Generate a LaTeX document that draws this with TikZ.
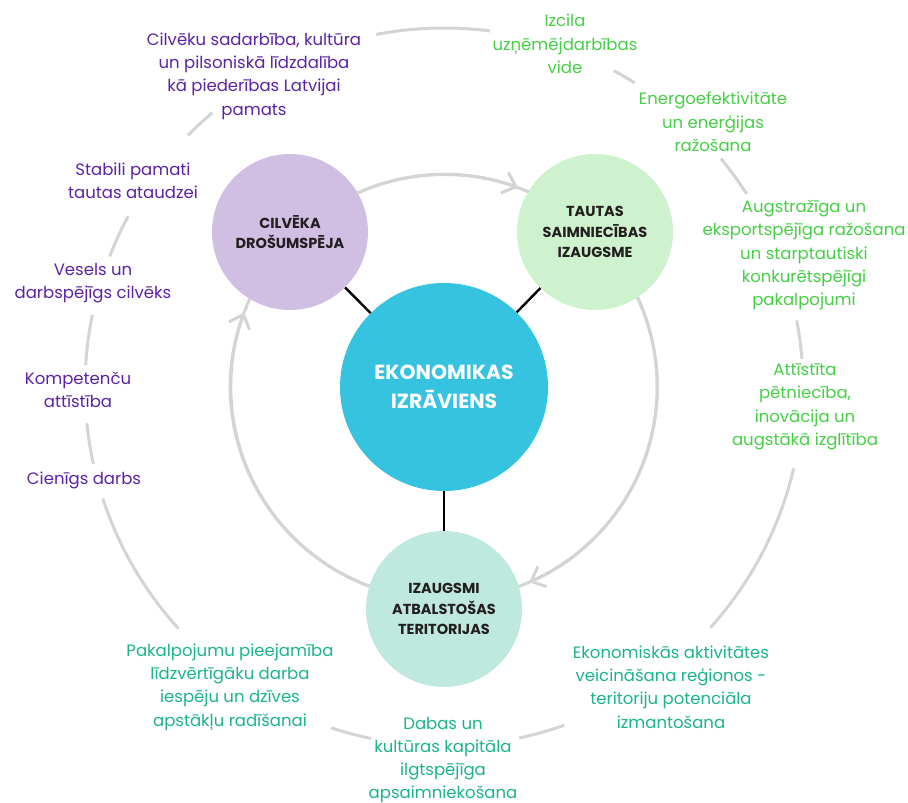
\documentclass[tikz,border=0pt]{standalone}
\usepackage{fontspec}
\setmainfont{Poppins}
\usetikzlibrary{arrows.meta}
\definecolor{purp}{HTML}{5A22A6}
\definecolor{lgreen}{HTML}{44CF44}
\definecolor{teal2}{HTML}{1AB48B}
\definecolor{lav}{HTML}{D0BFE3}
\definecolor{pgreen}{HTML}{CEF2CE}
\definecolor{mint}{HTML}{BFE9DE}
\definecolor{cyan2}{HTML}{35C3E0}
\definecolor{arcgray}{HTML}{D4D4D4}
\definecolor{dark}{HTML}{231F20}
\begin{document}
\begin{tikzpicture}[x=1pt,y=1pt,
  bubble/.style={circle, minimum size=156pt, inner sep=0pt, align=center, text=dark,
    font=\bfseries\fontsize{14.5}{20.5}\selectfont},
  core/.style={circle, minimum size=208pt, inner sep=0pt, fill=cyan2, text=white, align=center,
    font=\bfseries\fontsize{20.4}{28.5}\selectfont},
  lbl/.style={align=center, inner sep=0pt, font=\fontsize{16.5}{23.3}\selectfont},
  link/.style={line width=2.4pt, black},
  ring/.style={line width=3pt, arcgray},
  tipped/.style={ring, -{Straight Barb[length=12pt, width=22pt, line width=3pt]}}]
\useasboundingbox (0,0) rectangle (908,803);
\coordinate (O) at (444,416);

% circles
\node[core] (core) at (444,416) {EKONOMIKAS\\IZRĀVIENS};
\node[bubble, fill=lav] (hum) at (290,571) {CILVĒKA\\DROŠUMSPĒJA};
\node[bubble, fill=pgreen] (eco) at (595,571) {TAUTAS\\SAIMNIECĪBAS\\IZAUGSME};
\node[bubble, fill=mint] (ter) at (444,194) {IZAUGSMI\\ATBALSTOŠAS\\TERITORIJAS};

% links to the core
\draw[link] (hum) -- (core);
\draw[link] (eco) -- (core);
\draw[link] (ter) -- (core);

% inner cycle
\draw[ring] (hum.30.4) arc[start angle=114, end angle=66.6, radius=213pt];
\draw[tipped] (hum.30.4) arc[start angle=114, end angle=69.8, radius=213pt];
\draw[ring] (eco.-57.2) arc[start angle=24.8, end angle=-69.5, radius=213pt];
\draw[tipped] (eco.-57.2) arc[start angle=24.8, end angle=-66.5, radius=213pt];
\draw[ring] (ter.163.2) arc[start angle=249.5, end angle=155.6, radius=213pt];
\draw[tipped] (ter.163.2) arc[start angle=249.5, end angle=159.6, radius=213pt];

% outer ring segments
\foreach \a/\b in {82.6/100.9, 57.9/61.8, 32.5/39.5, 4.5/10.7, -42.1/-13.1,
  -77.9/-70.4, -108.3/-101.7, 198.1/222.3, 185.8/192.4, 168.4/176.5,
  151.6/158.7, 130.2/135.5}
  \draw[ring] ([shift={(\a:359pt)}]O) arc[start angle=\a, end angle=\b, radius=359pt];

% outer labels
\node[lbl, text=purp] (t1) at (254,727) {Cilvēku sadarbība, kultūra\\un pilsoniskā līdzdalība\\kā piederības Latvijai\\pamats};
\node[lbl, text=purp] (t2) at (133,622) {Stabili pamati\\tautas ataudzei};
\node[lbl, text=purp] (t3) at (93,520) {Vesels un\\darbspējīgs cilvēks};
\node[lbl, text=purp] (t4) at (78,413) {Kompetenču\\attīstība};
\node[lbl, text=purp] (t5) at (84,323) {Cienīgs darbs};
\node[lbl, text=teal2] (t6) at (230,116) {Pakalpojumu pieejamība\\līdzvērtīgāku darba\\iespēju un dzīves\\apstākļu radīšanai};
\node[lbl, text=teal2] (t7) at (443,43) {Dabas un\\kultūras kapitāla\\ilgtspējīga\\apsaimniekošana};
\node[lbl, text=teal2] (t8) at (671,116) {Ekonomiskās aktivitātes\\veicināšana reģionos -\\teritoriju potenciāla\\izmantošana};
\node[lbl, text=lgreen] (t9) at (805,396) {Attīstīta\\pētniecība,\\inovācija un\\augstākā izglītība};
\node[lbl, text=lgreen] (t10) at (804,548) {Augstražīga un\\eksportspējīga ražošana\\un starptautiski\\konkurētspējīgi\\pakalpojumi};
\node[lbl, text=lgreen] (t11) at (713,681) {Energoefektivitāte\\un enerģijas\\ražošana};
\node[lbl, text=lgreen] (t12) at (565,759) {Izcila\\uzņēmējdarbības\\vide};
\end{tikzpicture}
\end{document}
